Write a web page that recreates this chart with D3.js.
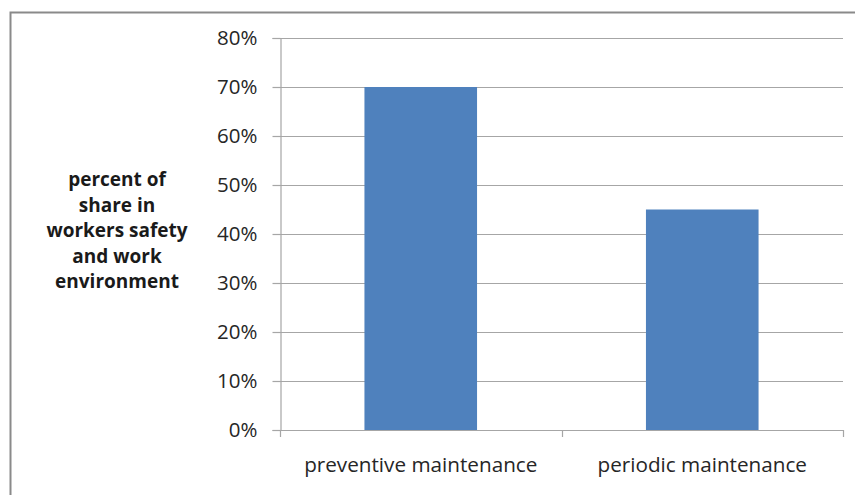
<!DOCTYPE html>
<html>
<head>
<meta charset="utf-8">
<script src="https://cdn.jsdelivr.net/npm/d3@7"></script>
<style>
  html, body { margin: 0; padding: 0; background: #fff; }
  svg { display: block; }
  text { font-family: "Open Sans", Lato, "Liberation Sans", sans-serif; }
</style>
</head>
<body>
<svg id="chart" width="855" height="495"></svg>
<script>
// Share of maintenance type in workers' safety and work environment
const categories = ["preventive maintenance", "periodic maintenance"];
const values = [0.70, 0.45];
const yTicks = [0, 0.1, 0.2, 0.3, 0.4, 0.5, 0.6, 0.7, 0.8];
const yTitleLines = ["percent of", "share in", "workers safety", "and work", "environment"];

const svg = d3.select("#chart");
const W = 855, H = 495;
const plot = { left: 280, right: 843, top: 38, bottom: 430 };

// Outer chart frame
svg.append("rect")
  .attr("x", 10.5).attr("y", 12.5)
  .attr("width", W).attr("height", H)
  .attr("fill", "#fff")
  .attr("stroke", "#8a8a8a").attr("stroke-width", 2);

const x = d3.scaleBand()
  .domain(categories)
  .range([plot.left, plot.right])
  .paddingInner(0.6).paddingOuter(0.3);

const xOuter = d3.scaleBand().domain(categories).range([plot.left, plot.right]);

const y = d3.scaleLinear().domain([0, 0.8]).range([plot.bottom, plot.top]);

// Horizontal gridlines
svg.append("g").selectAll("line")
  .data(yTicks.filter(d => d > 0))
  .join("line")
  .attr("x1", plot.left).attr("x2", plot.right)
  .attr("y1", d => Math.round(y(d)) + 0.5).attr("y2", d => Math.round(y(d)) + 0.5)
  .attr("stroke", "#a6a6a6").attr("stroke-width", 1.2);

// Bars
svg.append("g").selectAll("rect")
  .data(categories.map((c, i) => ({ c, v: values[i] })))
  .join("rect")
  .attr("x", d => x(d.c))
  .attr("width", x.bandwidth())
  .attr("y", d => y(d.v))
  .attr("height", d => y(0) - y(d.v))
  .attr("fill", "#4f81bd");

// Y axis
const yAxis = svg.append("g")
  .attr("transform", `translate(${plot.left + 0.5},0)`)
  .call(d3.axisLeft(y).tickValues(yTicks).tickFormat(d3.format(".0%")).tickSize(8).tickPadding(15));
yAxis.select(".domain").attr("stroke", "#a6a6a6").attr("stroke-width", 1.2);
yAxis.selectAll(".tick line").attr("stroke", "#a6a6a6").attr("stroke-width", 1.2);
yAxis.selectAll(".tick text")
  .attr("fill", "#262626").style("font-size", "20.5px");

// X axis baseline with category boundary ticks
svg.append("line")
  .attr("x1", plot.left).attr("x2", plot.right)
  .attr("y1", plot.bottom + 0.5).attr("y2", plot.bottom + 0.5)
  .attr("stroke", "#a6a6a6").attr("stroke-width", 1.2);
const bounds = [plot.left].concat(categories.map(c => xOuter(c) + xOuter.bandwidth()));
svg.append("g").selectAll("line")
  .data(bounds)
  .join("line")
  .attr("x1", d => Math.round(d) + 0.5).attr("x2", d => Math.round(d) + 0.5)
  .attr("y1", plot.bottom).attr("y2", plot.bottom + 7)
  .attr("stroke", "#a6a6a6").attr("stroke-width", 1.2);

// Category labels
svg.append("g").selectAll("text")
  .data(categories)
  .join("text")
  .attr("x", d => xOuter(d) + xOuter.bandwidth() / 2)
  .attr("y", 472)
  .attr("text-anchor", "middle")
  .attr("fill", "#262626")
  .style("font-size", "20.7px")
  .text(d => d);

// Y axis title
svg.append("text")
  .attr("text-anchor", "middle")
  .attr("fill", "#1a1a1a")
  .style("font-size", "19px")
  .style("font-weight", "bold")
  .selectAll("tspan")
  .data(yTitleLines)
  .join("tspan")
  .attr("x", 117)
  .attr("y", (d, i) => 186 + i * 25.5)
  .text(d => d);
</script>
</body>
</html>
